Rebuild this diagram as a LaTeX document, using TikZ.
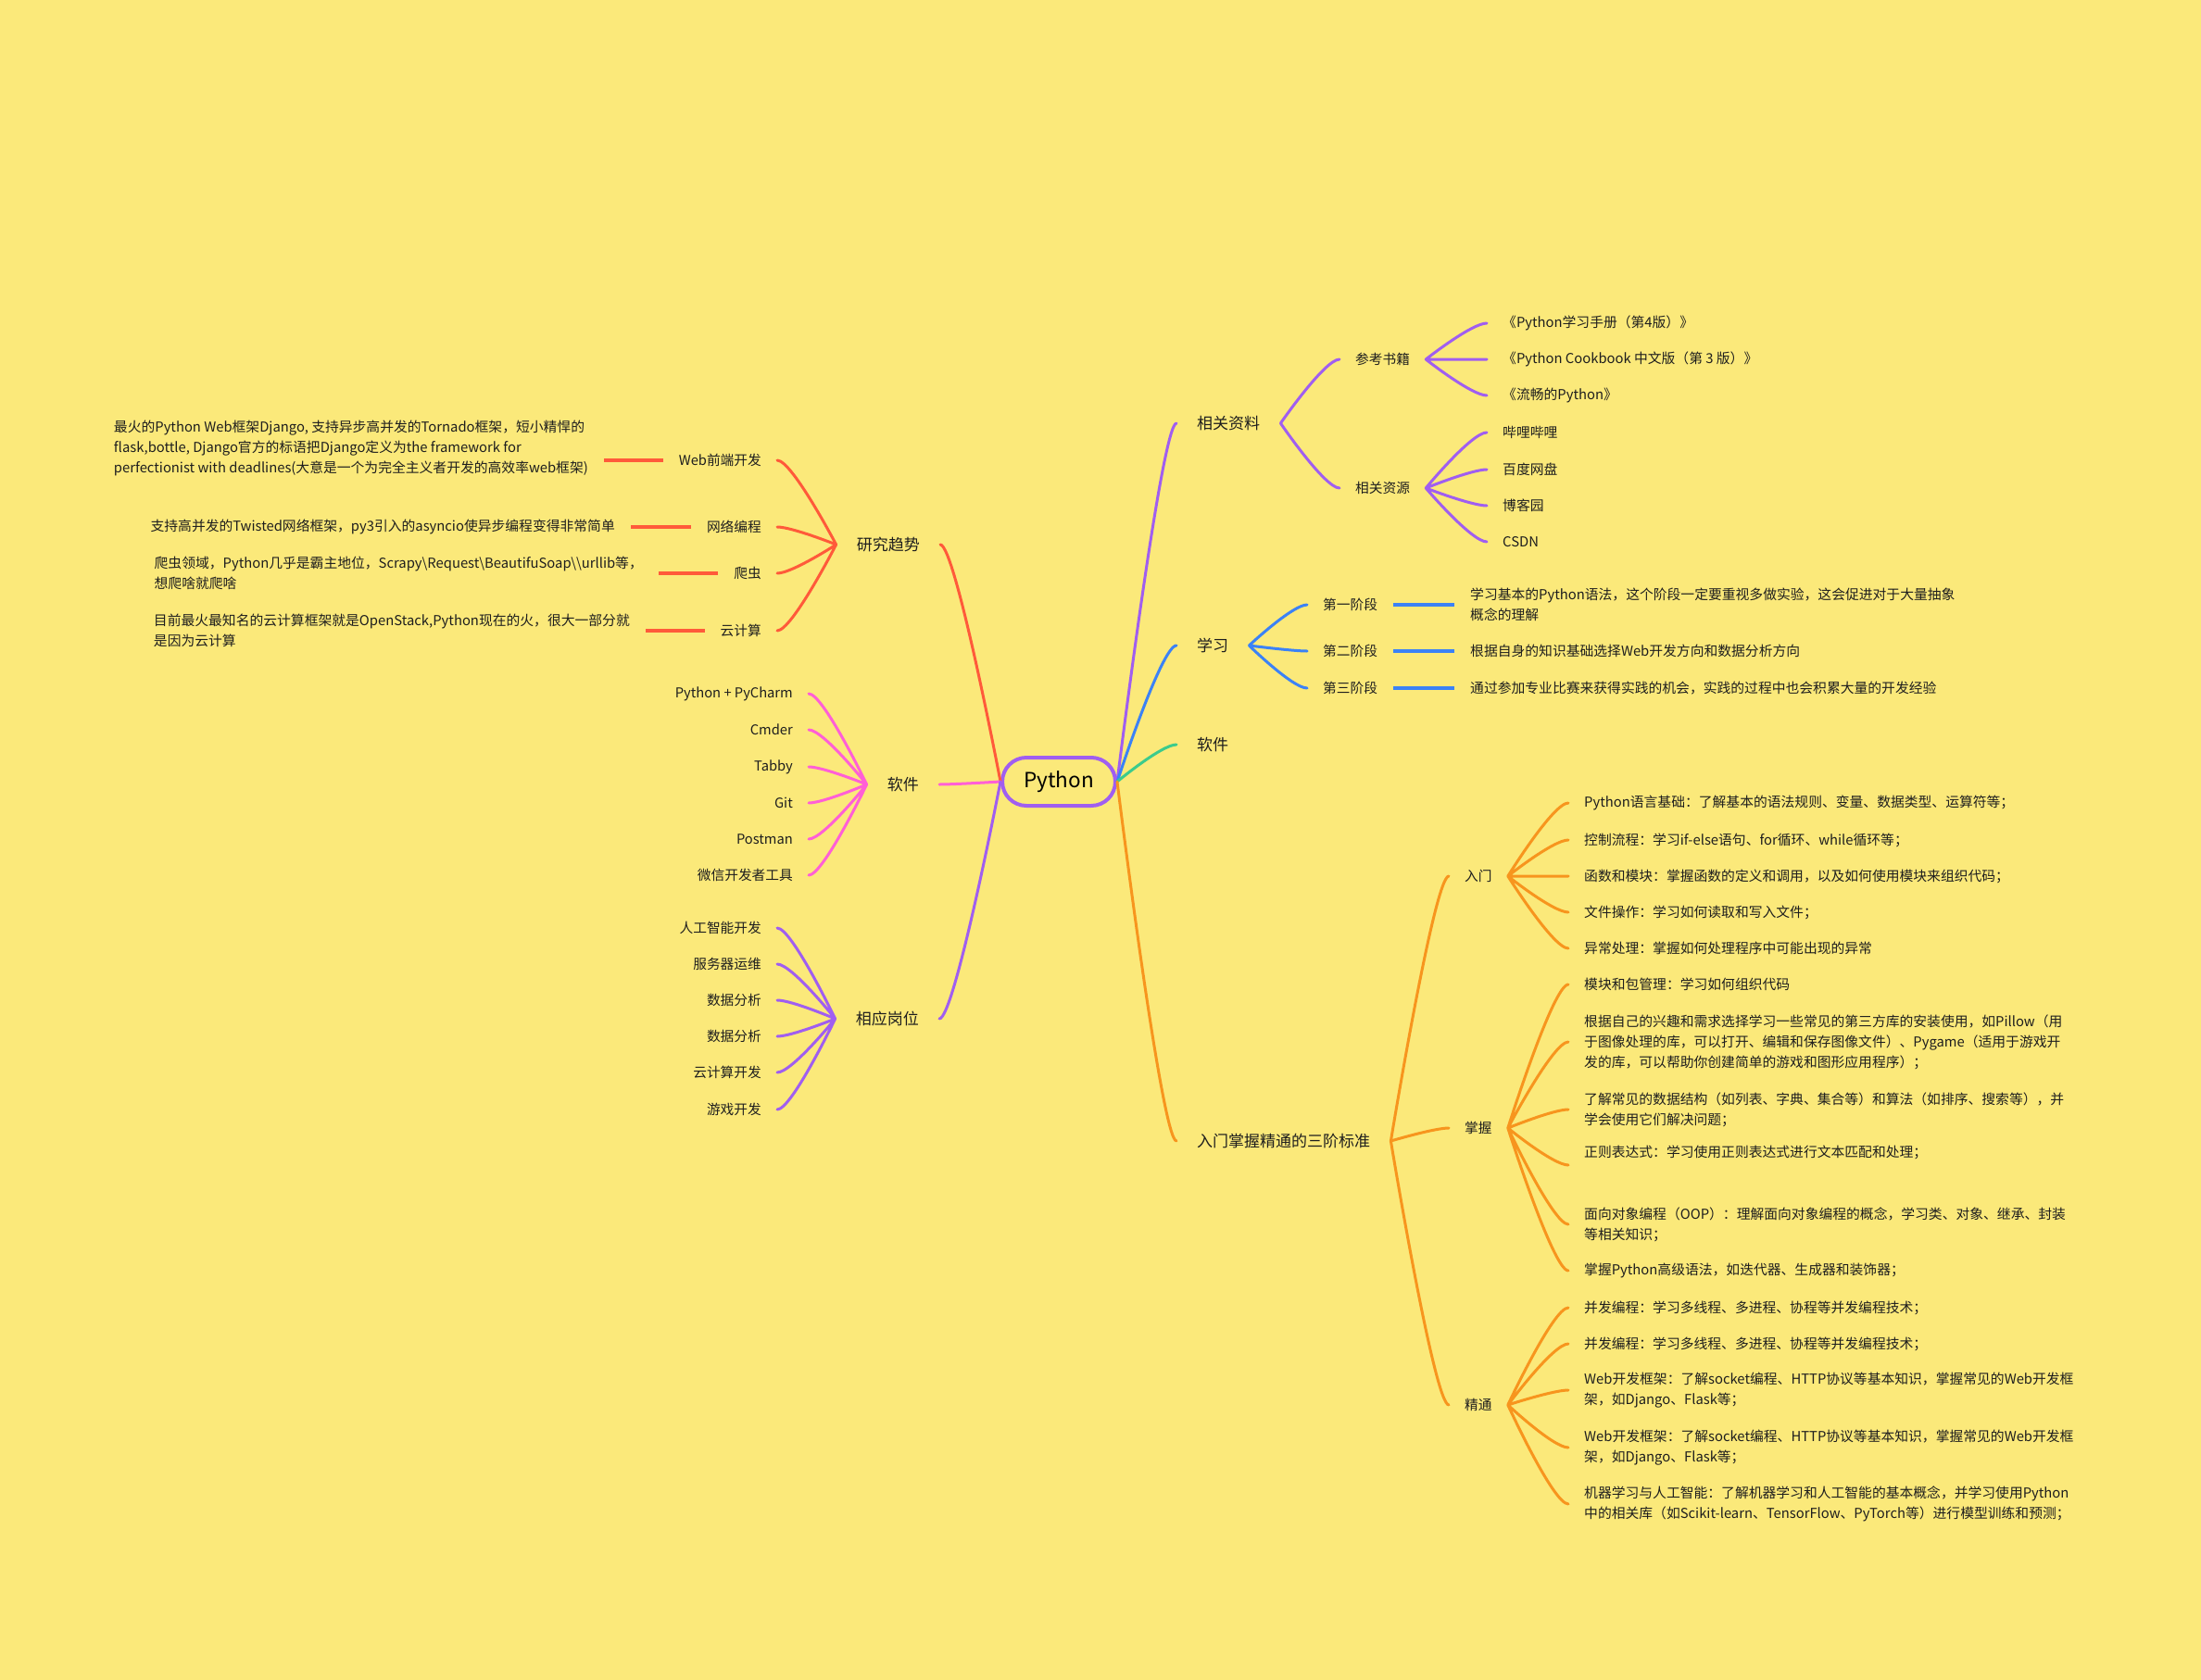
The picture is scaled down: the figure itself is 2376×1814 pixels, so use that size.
\documentclass[tikz,border=0pt]{standalone}
\usepackage{fontspec}
\setmainfont{Noto Sans CJK SC}
\usetikzlibrary{calc}
\definecolor{bg}{HTML}{FBE97A}
\definecolor{pur}{HTML}{A05EF0}
\definecolor{blu}{HTML}{3B82F6}
\definecolor{grn}{HTML}{3CCB8C}
\definecolor{org}{HTML}{F7951E}
\definecolor{rd}{HTML}{FF5A3A}
\definecolor{pnk}{HTML}{FF5FD6}
\definecolor{ink}{HTML}{1E1E1E}
\tikzset{
  main/.style={anchor=west,inner xsep=22pt,inner ysep=2pt,text=ink,font=\fontsize{17}{22}\selectfont},
  mainl/.style={main,anchor=east},
  sub/.style={anchor=west,inner xsep=17pt,inner ysep=2pt,text=ink,font=\fontsize{14.7}{22}\selectfont},
  subl/.style={sub,anchor=east},
  leaf/.style={anchor=west,inner xsep=17pt,inner ysep=2pt,align=left,text=ink,font=\fontsize{14.8}{22}\selectfont},
  leafl/.style={leaf,anchor=east},
  lnk/.style={line width=3pt,line cap=round,to path={let \p1=(\tikztostart),\p2=(\tikztotarget) in .. controls (\p1) and ({\x1+0.75*(\x2-\x1)},\y2) .. (\p2)}},
  bar/.style={line width=3.2pt},
}

\begin{document}
\begin{tikzpicture}[x=1pt,y=-1pt]
  \fill[bg] (0,0) rectangle (2376,1814);
  \node[draw=pur,line width=4pt,rounded corners=26pt,minimum width=122pt,minimum height=52pt,
    font=\fontsize{22.5}{26}\selectfont] (py) at (1143,844) {Python};

  \node[main] (ref) at (1270,457) {相关资料};
  \node[main] (study) at (1270,697) {学习};
  \node[main] (softr) at (1270,804) {软件};
  \node[main] (std) at (1270,1232) {入门掌握精通的三阶标准};
  \node[mainl] (trend) at (1015,588) {研究趋势};
  \node[mainl] (softl) at (1014,847) {软件};
  \node[mainl] (job) at (1014,1100) {相应岗位};

  \node[sub] (books) at (1446,388) {参考书籍};
  \node[sub] (res) at (1446,527) {相关资源};
  \node[leaf] (b1) at (1605,349) {《Python学习手册（第4版）》};
  \node[leaf] (b2) at (1605,388) {《Python Cookbook 中文版（第 3 版）》};
  \node[leaf] (b3) at (1605,427) {《流畅的Python》};
  \node[leaf] (r1) at (1605,467) {哔哩哔哩};
  \node[leaf] (r2) at (1605,507) {百度网盘};
  \node[leaf] (r3) at (1605,546) {博客园};
  \node[leaf] (r4) at (1605,585) {CSDN};

  \node[sub] (st1) at (1411,653) {第一阶段};
  \node[sub] (st2) at (1411,703) {第二阶段};
  \node[sub] (st3) at (1411,743) {第三阶段};
  \node[leaf] (s1) at (1570,653) {学习基本的Python语法，这个阶段一定要重视多做实验，这会促进对于大量抽象\\概念的理解};
  \node[leaf] (s2) at (1570,703) {根据自身的知识基础选择Web开发方向和数据分析方向};
  \node[leaf] (s3) at (1570,743) {通过参加专业比赛来获得实践的机会，实践的过程中也会积累大量的开发经验};

  \node[sub] (intro) at (1564,946) {入门};
  \node[sub] (master) at (1564,1218) {掌握};
  \node[sub] (expert) at (1564,1517) {精通};
  \node[leaf] (i1) at (1693,867) {Python语言基础：了解基本的语法规则、变量、数据类型、运算符等；};
  \node[leaf] (i2) at (1693,907) {控制流程：学习if-else语句、for循环、while循环等；};
  \node[leaf] (i3) at (1693,946) {函数和模块：掌握函数的定义和调用，以及如何使用模块来组织代码；};
  \node[leaf] (i4) at (1693,985) {文件操作：学习如何读取和写入文件；};
  \node[leaf] (i5) at (1693,1024) {异常处理：掌握如何处理程序中可能出现的异常};
  \node[leaf] (m1) at (1693,1063) {模块和包管理：学习如何组织代码};
  \node[leaf] (m2) at (1693,1125) {根据自己的兴趣和需求选择学习一些常见的第三方库的安装使用，如Pillow（用\\于图像处理的库，可以打开、编辑和保存图像文件）、Pygame（适用于游戏开\\发的库，可以帮助你创建简单的游戏和图形应用程序）；};
  \node[leaf] (m3) at (1693,1198) {了解常见的数据结构（如列表、字典、集合等）和算法（如排序、搜索等），并\\学会使用它们解决问题；};
  \node[leaf] (m4) at (1693,1258) {正则表达式：学习使用正则表达式进行文本匹配和处理；\\\strut};
  \node[leaf] (m5) at (1693,1322) {面向对象编程（OOP）：理解面向对象编程的概念，学习类、对象、继承、封装\\等相关知识；};
  \node[leaf] (m6) at (1693,1372) {掌握Python高级语法，如迭代器、生成器和装饰器；};
  \node[leaf] (e1) at (1693,1412) {并发编程：学习多线程、多进程、协程等并发编程技术；};
  \node[leaf] (e2) at (1693,1451) {并发编程：学习多线程、多进程、协程等并发编程技术；};
  \node[leaf] (e3) at (1693,1501) {Web开发框架：了解socket编程、HTTP协议等基本知识，掌握常见的Web开发框\\架，如Django、Flask等；};
  \node[leaf] (e4) at (1693,1563) {Web开发框架：了解socket编程、HTTP协议等基本知识，掌握常见的Web开发框\\架，如Django、Flask等；};
  \node[leaf] (e5) at (1693,1624) {机器学习与人工智能：了解机器学习和人工智能的基本概念，并学习使用Python\\中的相关库（如Scikit-learn、TensorFlow、PyTorch等）进行模型训练和预测；};

  \node[subl] (web) at (839,497) {Web前端开发};
  \node[subl] (net) at (839,569) {网络编程};
  \node[subl] (spider) at (839,619) {爬虫};
  \node[subl] (cloud) at (839,681) {云计算};
  \node[leafl] (webleaf) at (652,497) {最火的Python Web框架Django, 支持异步高并发的Tornado框架，短小精悍的\\flask,bottle, Django官方的标语把Django定义为the framework for\\perfectionist with deadlines(大意是一个为完全主义者开发的高效率web框架)\\\strut};
  \node[leafl] (netleaf) at (681,569) {支持高并发的Twisted网络框架，py3引入的asyncio使异步编程变得非常简单};
  \node[leafl] (spiderleaf) at (711,619) {爬虫领域，Python几乎是霸主地位，Scrapy\textbackslash Request\textbackslash BeautifuSoap\textbackslash\textbackslash urllib等，\\想爬啥就爬啥};
  \node[leafl] (cloudleaf) at (697,681) {目前最火最知名的云计算框架就是OpenStack,Python现在的火，很大一部分就\\是因为云计算};

  \node[subl] (sw1) at (873,749) {Python + PyCharm};
  \node[subl] (sw2) at (873,788) {Cmder};
  \node[subl] (sw3) at (873,828) {Tabby};
  \node[subl] (sw4) at (873,867) {Git};
  \node[subl] (sw5) at (873,906) {Postman};
  \node[subl] (sw6) at (873,945) {微信开发者工具};

  \node[subl] (j1) at (839,1002) {人工智能开发};
  \node[subl] (j2) at (839,1041) {服务器运维};
  \node[subl] (j3) at (839,1080) {数据分析};
  \node[subl] (j4) at (839,1119) {数据分析};
  \node[subl] (j5) at (839,1158) {云计算开发};
  \node[subl] (j6) at (839,1198) {游戏开发};

  \draw[pur,lnk] (py.east) to (ref.west);
  \draw[blu,lnk] (py.east) to (study.west);
  \draw[grn,lnk] (py.east) to (softr.west);
  \draw[org,lnk] (py.east) to (std.west);
  \draw[rd,lnk] (py.west) to (trend.east);
  \draw[pnk,lnk] (py.west) to (softl.east);
  \draw[pur,lnk] (py.west) to (job.east);

  \draw[pur,lnk] (ref.east) to (books.west) (ref.east) to (res.west);
  \draw[pur,lnk] (books.east) to (b1.west) (books.east) to (b2.west) (books.east) to (b3.west);
  \draw[pur,lnk] (res.east) to (r1.west) (res.east) to (r2.west) (res.east) to (r3.west) (res.east) to (r4.west);

  \draw[blu,lnk] (study.east) to (st1.west) (study.east) to (st2.west) (study.east) to (st3.west);
  \draw[blu,bar] (st1.east) -- (s1.west);
  \draw[blu,bar] (st2.east) -- (s2.west);
  \draw[blu,bar] (st3.east) -- (s3.west);

  \draw[org,lnk] (std.east) to (intro.west) (std.east) to (master.west) (std.east) to (expert.west);
  \draw[org,lnk] (intro.east) to (i1.west) (intro.east) to (i2.west) (intro.east) to (i3.west) (intro.east) to (i4.west) (intro.east) to (i5.west);
  \draw[org,lnk] (master.east) to (m1.west) (master.east) to (m2.west) (master.east) to (m3.west) (master.east) to (m4.west) (master.east) to (m5.west) (master.east) to (m6.west);
  \draw[org,lnk] (expert.east) to (e1.west) (expert.east) to (e2.west) (expert.east) to (e3.west) (expert.east) to (e4.west) (expert.east) to (e5.west);

  \draw[rd,lnk] (trend.west) to (web.east) (trend.west) to (net.east) (trend.west) to (spider.east) (trend.west) to (cloud.east);
  \draw[rd,bar] (web.west) -- (webleaf.east);
  \draw[rd,bar] (net.west) -- (netleaf.east);
  \draw[rd,bar] (spider.west) -- (spiderleaf.east);
  \draw[rd,bar] (cloud.west) -- (cloudleaf.east);

  \draw[pnk,lnk] (softl.west) to (sw1.east) (softl.west) to (sw2.east) (softl.west) to (sw3.east) (softl.west) to (sw4.east) (softl.west) to (sw5.east) (softl.west) to (sw6.east);
  \draw[pur,lnk] (job.west) to (j1.east) (job.west) to (j2.east) (job.west) to (j3.east) (job.west) to (j4.east) (job.west) to (j5.east) (job.west) to (j6.east);
\end{tikzpicture}
\end{document}
